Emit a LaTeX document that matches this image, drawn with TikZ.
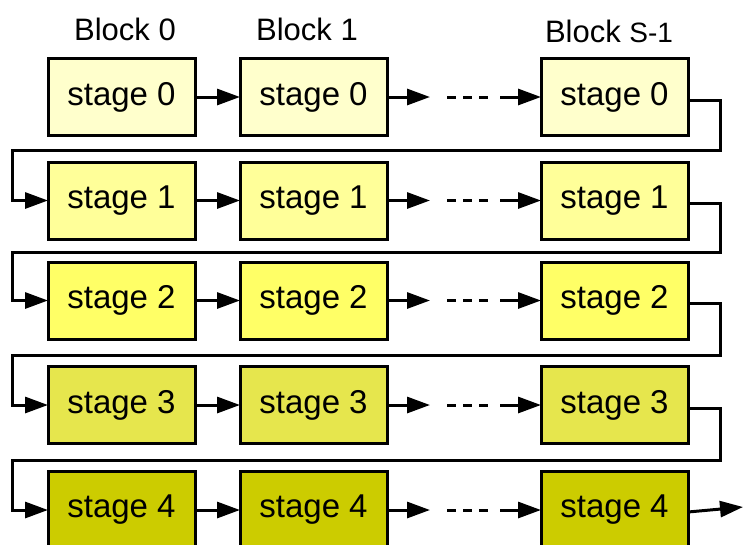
\documentclass[tikz,border=0pt]{standalone}
\usepackage{fontspec}
\setmainfont{Liberation Sans}
\usetikzlibrary{arrows.meta}
\definecolor{rowA}{HTML}{FFFFCC}
\definecolor{rowB}{HTML}{FFFF99}
\definecolor{rowC}{HTML}{FFFF66}
\definecolor{rowD}{HTML}{E6E64D}
\definecolor{rowE}{HTML}{CCCC00}
\begin{document}
\begin{tikzpicture}[x=1pt,y=-1pt,
  stagebox/.style={draw=black,line width=3pt,minimum width=147pt,minimum height=77pt,inner sep=0pt,outer sep=0pt,font=\fontsize{33}{33}\selectfont},
  blocklabel/.style={font=\fontsize{31}{31}\selectfont,inner sep=0pt,anchor=base},
  wire/.style={line width=3pt},
  arr/.style={wire,-{Triangle[length=23pt,width=16pt]}},
  dots/.style={wire,dash pattern=on 9pt off 7pt}]
\useasboundingbox (0,0) rectangle (743,544);
\node[blocklabel] (b0) at (125,40) {Block 0};
\node[blocklabel] (b1) at (307,40) {Block 1};
\node[blocklabel] (b2) at (609,42) {Block {\fontsize{28}{28}\selectfont S-1}};
\foreach \r/\y/\c in {0/97/rowA,1/200.5/rowB,2/300.5/rowC,3/405/rowD,4/510/rowE}{
  \node[stagebox,fill=\c] (s\r a) at (121.5,\y) {stage \r};
  \node[stagebox,fill=\c] (s\r b) at (313.5,\y) {stage \r};
  \node[stagebox,fill=\c] (s\r c) at (614.5,\y) {stage \r};
  \coordinate (d\r a) at (430,\y);
  \coordinate (d\r b) at (447,\y);
  \coordinate (d\r c) at (492,\y);
  \coordinate (d\r d) at (500,\y);
  \draw[arr] (s\r a.east) -- (s\r b.west);
  \draw[arr] (s\r b.east) -- (d\r a);
  \draw[dots] (d\r b) -- (d\r c);
  \draw[arr] (d\r d) -- (s\r c.west);
}
\foreach \r/\n/\w in {0/1/150,1/2/252,2/3/355,3/4/460}{
  \coordinate (r\r) at (720,\w);
  \coordinate (l\r) at (12,\w);
  \draw[arr] ([yshift=-3pt]s\r c.east) -| (r\r) -- (l\r) |- (s\n a.west);
}
\coordinate (out) at (743,507);
\draw[arr] ([yshift=-2pt]s4c.east) -- (out);
\end{tikzpicture}
\end{document}
